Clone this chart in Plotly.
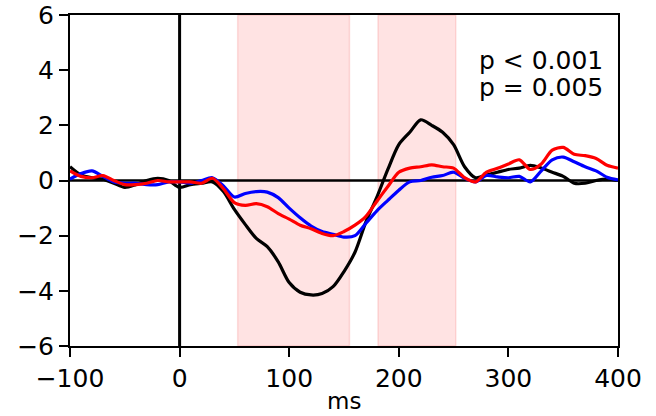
import plotly.graph_objects as go

ms = list(range(-100, 401, 10))

black = [0.5, 0.2, 0.1, 0.05, -0.1, -0.25, -0.15, 0.0, 0.08, 0.0,
         -0.25, -0.15, -0.1, -0.05, -0.4, -1.05, -1.6, -2.1, -2.4, -2.95,
         -3.7, -4.05, -4.15, -4.1, -3.85, -3.3, -2.6, -1.5, -0.6, 0.4,
         1.3, 1.75, 2.2, 2.0, 1.75, 1.3, 0.5, 0.1, 0.2, 0.3,
         0.4, 0.45, 0.55, 0.45, 0.3, 0.15, -0.1, -0.1, 0.0, 0.05, 0.0]

blue = [0.05, 0.25, 0.35, 0.15, -0.05, -0.1, -0.1, -0.15, -0.15, -0.05,
        -0.05, -0.1, 0.0, 0.1, -0.2, -0.6, -0.47, -0.4, -0.42, -0.62,
        -1.0, -1.35, -1.65, -1.85, -1.95, -2.05, -2.0, -1.55, -1.1, -0.72,
        -0.35, -0.05, 0.0, 0.12, 0.18, 0.3, 0.08, -0.05, 0.18, 0.13,
        0.1, 0.15, -0.05, 0.35, 0.75, 0.85, 0.68, 0.5, 0.35, 0.12, 0.02]

red = [0.35, 0.15, 0.1, 0.18, 0.0, -0.15, -0.15, -0.1, 0.0, -0.05,
       -0.05, -0.05, -0.1, 0.08, -0.3, -0.8, -0.9, -0.84, -0.95, -1.2,
       -1.4, -1.62, -1.75, -1.92, -2.0, -1.85, -1.62, -1.3, -0.75, -0.22,
       0.3, 0.45, 0.5, 0.57, 0.5, 0.45, 0.1, -0.05, 0.3, 0.44,
       0.6, 0.75, 0.4, 0.6, 1.1, 1.2, 0.95, 0.9, 0.8, 0.55, 0.45]

spans = [(53, 155), (181, 252)]
p_texts = ["p < 0.001", "p = 0.005"]

x_ticks = [-100, 0, 100, 200, 300, 400]
x_ticktext = ["\u2212100", "0", "100", "200", "300", "400"]
y_ticks = [-6, -4, -2, 0, 2, 4, 6]
y_ticktext = ["\u22126", "\u22124", "\u22122", "0", "2", "4", "6"]

font = "DejaVu Sans"
fig = go.Figure()

# zero reference lines
fig.add_trace(go.Scatter(x=[-100, 400], y=[0, 0], mode="lines",
                         line=dict(color="black", width=2.5), hoverinfo="skip", showlegend=False))
fig.add_trace(go.Scatter(x=[0, 0], y=[-6, 6], mode="lines",
                         line=dict(color="black", width=3), hoverinfo="skip", showlegend=False))

for ys, col in [(black, "black"), (blue, "#0000ff"), (red, "#ff0000")]:
    fig.add_trace(go.Scatter(x=ms, y=ys, mode="lines",
                             line=dict(color=col, width=3.2, shape="spline", smoothing=0.8),
                             showlegend=False))

for a, b in spans:
    fig.add_vrect(x0=a, x1=b, fillcolor="rgba(255,0,0,0.11)",
                  line=dict(color="rgba(230,0,0,0.12)", width=1.5), layer="below")

for i, t in enumerate(p_texts):
    fig.add_annotation(x=0.977, y=0.862 - i * 0.082, xref="paper", yref="paper",
                       text=t, showarrow=False, xanchor="right", yanchor="middle",
                       font=dict(family=font, size=25, color="black"))

fig.add_annotation(x=0.5, y=-0.165, xref="paper", yref="paper", text="ms",
                   showarrow=False, xanchor="center", yanchor="middle",
                   font=dict(family=font, size=23, color="black"))

fig.update_layout(
    width=656, height=416,
    margin=dict(l=70, r=38, t=15, b=70),
    plot_bgcolor="white", paper_bgcolor="white",
    font=dict(family=font, size=25, color="black"),
)
fig.update_xaxes(range=[-100, 400], tickvals=x_ticks, ticktext=x_ticktext,
                 showgrid=False, zeroline=False, showline=True, linecolor="black",
                 linewidth=2, mirror=True, ticks="outside", ticklen=9, tickwidth=2,
                 tickcolor="black", automargin=False, ticklabeloverflow="allow")
fig.update_yaxes(range=[-6, 6], tickvals=y_ticks, ticktext=y_ticktext,
                 showgrid=False, zeroline=False, showline=True, linecolor="black",
                 linewidth=2, mirror=True, ticks="outside", ticklen=9, tickwidth=2,
                 tickcolor="black", automargin=False, ticklabeloverflow="allow")

fig.write_html("out.html", config={"displayModeBar": False},
               post_script="document.body.style.margin='0';")
